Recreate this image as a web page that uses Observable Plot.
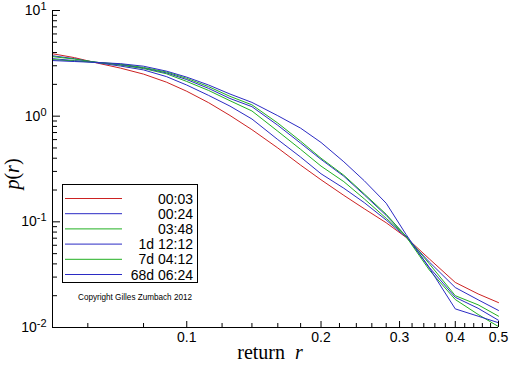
<!DOCTYPE html>
<html><head><meta charset="utf-8">
<script src="https://cdn.jsdelivr.net/npm/d3@7"></script>
<script src="https://cdn.jsdelivr.net/npm/@observablehq/plot@0.6"></script>
<style>
body{margin:0;background:#fff;}
#wrap{position:relative;width:512px;height:366px;overflow:hidden;}
</style></head><body><div id="wrap"></div>
<script>
// return grid (x values)
const returns = [0.05, 0.056, 0.063, 0.071, 0.08, 0.09, 0.1, 0.112, 0.125, 0.14, 0.16, 0.18, 0.2, 0.225, 0.25, 0.28, 0.31, 0.35, 0.4, 0.45, 0.5];
// p(r) per time horizon
const p_0003 = [3.90, 3.58, 3.18, 2.85, 2.50, 2.10, 1.72, 1.34, 1.015, 0.745, 0.50, 0.344, 0.250, 0.178, 0.133, 0.098, 0.0715, 0.0445, 0.0267, 0.0208, 0.0172];
const p_0024 = [3.73, 3.50, 3.20, 2.98, 2.74, 2.37, 1.97, 1.57, 1.245, 0.94, 0.60, 0.41, 0.285, 0.208, 0.152, 0.104, 0.072, 0.0416, 0.0239, 0.0183, 0.0145];
const p_0348 = [3.66, 3.47, 3.23, 3.04, 2.82, 2.52, 2.13, 1.75, 1.40, 1.12, 0.72, 0.485, 0.337, 0.24, 0.165, 0.108, 0.0735, 0.0400, 0.0200, 0.0164, 0.0128];
const p_1d   = [3.50, 3.36, 3.23, 3.07, 2.86, 2.57, 2.22, 1.83, 1.47, 1.23, 0.82, 0.555, 0.39, 0.27, 0.18, 0.115, 0.0735, 0.0370, 0.0193, 0.0152, 0.0117];
const p_7d   = [3.43, 3.33, 3.23, 3.11, 2.89, 2.62, 2.28, 1.90, 1.54, 1.28, 0.86, 0.58, 0.40, 0.276, 0.184, 0.118, 0.073, 0.0349, 0.0184, 0.0133, 0.0102];
const p_68d  = [3.36, 3.29, 3.22, 3.14, 2.97, 2.67, 2.34, 1.97, 1.62, 1.35, 1.01, 0.77, 0.564, 0.37, 0.245, 0.15, 0.0763, 0.0364, 0.0150, 0.0128, 0.0111];
const horizons = ["00:03", "00:24", "03:48", "1d 12:12", "7d 04:12", "68d 06:24"];
const seriesValues = [p_0003, p_0024, p_0348, p_1d, p_7d, p_68d];
const colors = ["#cc2222", "#2b2bc4", "#22b022", "#2b2bc4", "#22b022", "#2b2bc4"];

const xMajorTicks = [0.1, 0.2, 0.3, 0.4, 0.5];
const xMinorTicks = [0.06, 0.08, 0.12, 0.14, 0.16, 0.18, 0.22, 0.24, 0.26, 0.28, 0.32, 0.34, 0.36, 0.38, 0.42, 0.44, 0.46, 0.48];
const yMajorTicks = [0.01, 0.1, 1, 10];
const yMinorTicks = [];
for (const d of [0.01, 0.1, 1]) for (let k = 2; k <= 9; k++) yMinorTicks.push(+(d * k).toPrecision(3));

const data = [];
horizons.forEach((h, i) => seriesValues[i].forEach((v, j) => data.push({horizon: h, r: returns[j], p: v, color: colors[i]})));

const plot = Plot.plot({
  width: 512, height: 366,
  marginLeft: 52, marginRight: 14, marginTop: 10, marginBottom: 39,
  style: {fontFamily: "'Liberation Sans', Arial, sans-serif", fontSize: "14px", background: "#fff", color: "#000"},
  x: {type: "log", domain: [0.05, 0.5], label: null},
  y: {type: "log", domain: [0.01, 10], label: null},
  marks: [
    Plot.line(data, {x: "r", y: "p", z: "horizon", stroke: "color", strokeWidth: 1}),
    Plot.axisX(xMinorTicks, {tickSize: -4, tickFormat: () => "", label: null}),
    Plot.axisX(xMajorTicks, {tickSize: -6, tickFormat: () => "", label: null}),
    Plot.axisX(xMajorTicks, {tickSize: 0, tickPadding: 5, tickFormat: d => String(d), label: null}),
    Plot.axisY(yMinorTicks, {tickSize: -5, tickFormat: () => "", label: null}),
    Plot.axisY(yMajorTicks, {tickSize: -8, tickFormat: () => "", label: null}),
    Plot.axisY(yMajorTicks, {tickSize: 0, tickPadding: 6, tickFormat: d => "10^" + Math.round(Math.log10(d)), label: null}),
    Plot.ruleX([0.05]),
    Plot.ruleY([0.01])
  ]
});
document.getElementById("wrap").appendChild(plot);

const svg = d3.select(plot);
// superscript exponents
svg.selectAll('g[aria-label="y-axis tick label"] text').each(function() {
  const t = d3.select(this);
  const s = t.text();
  if (!s.includes("^")) return;
  const [base, exp] = s.split("^");
  t.text(null);
  t.append("tspan").text(base);
  t.append("tspan").attr("dy", "-0.45em").attr("font-size", "11px").text(exp);
});

// axis titles
const serif = "'Liberation Serif', 'Times New Roman', serif";
const xt = svg.append("text").attr("x", 270).attr("y", 359).attr("text-anchor", "middle")
  .attr("font-family", serif).attr("font-size", 20).attr("fill", "#000");
xt.append("tspan").text("return  ");
xt.append("tspan").attr("font-style", "italic").text("r");
const yt = svg.append("text").attr("transform", "translate(19,174) rotate(-90)").attr("text-anchor", "middle")
  .attr("font-family", serif).attr("font-size", 20).attr("fill", "#000");
yt.append("tspan").attr("font-style", "italic").text("p");
yt.append("tspan").text("(");
yt.append("tspan").attr("font-style", "italic").text("r");
yt.append("tspan").text(")");

// legend
const lg = svg.append("g").attr("font-family", "'Liberation Sans', Arial, sans-serif");
lg.append("rect").attr("x", 62.5).attr("y", 184.5).attr("width", 135).attr("height", 98)
  .attr("fill", "#fff").attr("stroke", "#000");
horizons.forEach((h, i) => {
  const yy = 198.5 + i * 15.2;
  lg.append("line").attr("x1", 65).attr("x2", 122).attr("y1", yy).attr("y2", yy).attr("stroke", colors[i]);
  lg.append("text").attr("x", 193).attr("y", yy).attr("dy", "0.36em").attr("text-anchor", "end")
    .attr("font-size", 14).attr("fill", "#000").text(h);
});
svg.append("text").attr("x", 78).attr("y", 300).attr("text-anchor", "start")
  .attr("font-family", "'Liberation Sans', Arial, sans-serif")
  .attr("font-size", 9).attr("textLength", 114).attr("lengthAdjust", "spacingAndGlyphs")
  .attr("fill", "#000").text("Copyright Gilles Zumbach 2012");
</script>
</body></html>
